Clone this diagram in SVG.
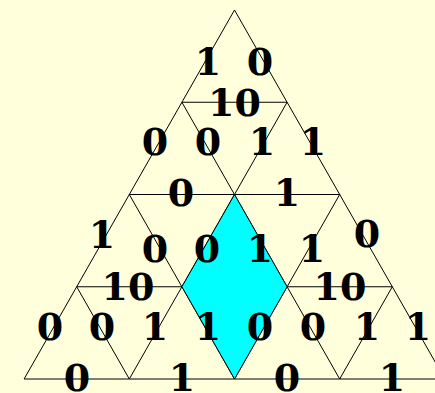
<svg xmlns="http://www.w3.org/2000/svg" width="435" height="393" viewBox="0 0 435 393">
<style>
.g{stroke:#000;stroke-width:1;fill:none}
.t{font-family:"DejaVu Serif",serif;font-weight:bold;font-size:38px;fill:#000;text-anchor:middle}
.d{fill:#00FFFF;stroke:#000;stroke-width:1}
</style>
<rect width="435" height="393" fill="#FFFFDC"/>
<g id="grid" class="g">
<line x1="234.5" y1="10" x2="24.1" y2="379"/>
<line x1="234.5" y1="10" x2="444.9" y2="379"/>
<line x1="181.9" y1="102.25" x2="287.1" y2="102.25"/>
<line x1="129.3" y1="194.5" x2="339.7" y2="194.5"/>
<line x1="76.7" y1="286.75" x2="392.3" y2="286.75"/>
<line x1="24.1" y1="379" x2="444.9" y2="379"/>
<line x1="129.3" y1="379" x2="287.1" y2="102.25"/>
<line x1="234.5" y1="379" x2="339.7" y2="194.5"/>
<line x1="339.7" y1="379" x2="392.3" y2="286.75"/>
<line x1="339.7" y1="379" x2="181.9" y2="102.25"/>
<line x1="234.5" y1="379" x2="129.3" y2="194.5"/>
<line x1="129.3" y1="379" x2="76.7" y2="286.75"/>
</g>
<g id="diamond">
<polygon class="d" points="234.5,194.5 287.1,286.75 234.5,379 181.9,286.75"/>
</g>
<g id="labels" class="t">
<text x="208" y="75">1</text>
<text x="260" y="75">0</text>
<text x="234.5" y="116">10</text>
<text x="155" y="155">0</text>
<text x="208" y="155">0</text>
<text x="262" y="155">1</text>
<text x="313" y="155">1</text>
<text x="181" y="206">0</text>
<text x="287" y="206">1</text>
<text x="102" y="248">1</text>
<text x="155" y="262">0</text>
<text x="207" y="262">0</text>
<text x="260" y="262">1</text>
<text x="312" y="262">1</text>
<text x="367" y="247">0</text>
<text x="128" y="300">10</text>
<text x="340" y="300">10</text>
<text x="50" y="340">0</text>
<text x="102" y="340">0</text>
<text x="155" y="340">1</text>
<text x="208" y="340">1</text>
<text x="260" y="340">0</text>
<text x="313" y="340">0</text>
<text x="367" y="340">1</text>
<text x="418" y="340">1</text>
<text x="77" y="391">0</text>
<text x="182" y="391">1</text>
<text x="287" y="391">0</text>
<text x="392" y="391">1</text>
</g>
</svg>
